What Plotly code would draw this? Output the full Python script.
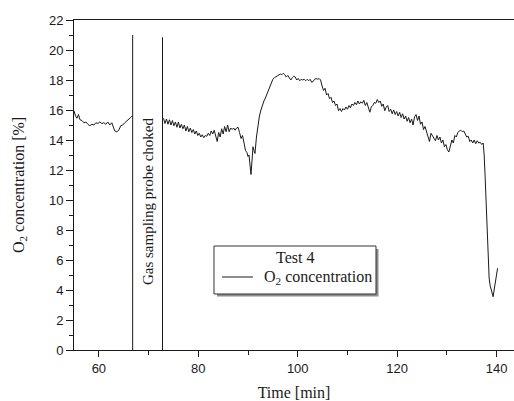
import plotly.graph_objects as go

# ---- data ----
seg1_time = [55.0, 55.3, 55.6, 55.9, 56.2, 56.6, 57.0, 57.4, 57.8, 58.2, 58.6, 59.0, 59.4, 59.8,
             60.2, 60.6, 61.0, 61.4, 61.8, 62.2, 62.6, 62.9, 63.2, 63.6, 64.0, 64.4, 64.8, 65.2,
             65.6, 66.0, 66.4, 66.7]
seg1_o2 = [15.95, 15.6, 15.45, 15.7, 15.35, 15.3, 15.15, 15.2, 15.05, 14.95, 15.05, 15.0, 15.15, 15.1,
           15.2, 15.1, 15.15, 15.05, 15.2, 15.0, 15.15, 14.9, 14.6, 14.55, 14.65, 14.95, 15.0, 15.15,
           15.25, 15.35, 15.5, 15.6]

seg2_time = [73.0, 73.3, 73.6, 73.9, 74.2, 74.5, 74.8, 75.1, 75.4, 75.7, 76.0, 76.3, 76.6, 76.9,
             77.2, 77.5, 77.8, 78.1, 78.4, 78.7, 79.0, 79.3, 79.6, 79.9, 80.2, 80.5, 80.8, 81.1,
             81.4, 81.7, 82.0, 82.3, 82.6, 82.9, 83.2, 83.5, 83.8, 84.1, 84.4, 84.7, 85.0, 85.3,
             85.6, 85.9, 86.2, 86.5, 86.8, 87.1, 87.4, 87.7, 88.0, 88.3, 88.6, 88.9, 89.2, 89.5,
             89.8, 90.0, 90.2, 90.4, 90.6, 90.8, 91.0, 91.2, 91.4, 91.7, 92.0, 92.3, 92.6, 92.9,
             93.2, 93.5, 93.8, 94.1, 94.4, 94.7, 95.0, 95.3, 95.6, 95.9, 96.2, 96.5, 96.8, 97.1,
             97.4, 97.7, 98.0, 98.3, 98.6, 98.9, 99.2, 99.5, 99.8, 100.1, 100.4, 100.7, 101.0,
             101.3, 101.6, 101.9, 102.2, 102.5, 102.8, 103.1, 103.4, 103.7, 104.0, 104.3, 104.6,
             104.9, 105.2, 105.5, 105.8, 106.1, 106.4, 106.7, 107.0, 107.3, 107.6, 107.9, 108.2,
             108.5, 108.8, 109.1, 109.4, 109.7, 110.0, 110.3, 110.6, 110.9, 111.2, 111.5, 111.8,
             112.1, 112.4, 112.7, 113.0, 113.3, 113.6, 113.9, 114.2, 114.5, 114.8, 115.1, 115.4,
             115.7, 116.0, 116.3, 116.6, 116.9, 117.2, 117.5, 117.8, 118.1, 118.4, 118.7, 119.0,
             119.3, 119.6, 119.9, 120.2, 120.5, 120.8, 121.1, 121.4, 121.7, 122.0, 122.3, 122.6,
             122.9, 123.2, 123.5, 123.8, 124.1, 124.4, 124.7, 125.0, 125.3, 125.6, 125.9, 126.2,
             126.5, 126.8, 127.1, 127.4, 127.7, 128.0, 128.3, 128.6, 128.9, 129.2, 129.5, 129.8,
             130.1, 130.4, 130.7, 131.0, 131.3, 131.6, 131.9, 132.2, 132.5, 132.8, 133.1, 133.4,
             133.7, 134.0, 134.3, 134.6, 134.9, 135.2, 135.5, 135.8, 136.1, 136.4, 136.7, 137.0,
             137.3, 137.5, 137.7, 137.9, 138.1, 138.3, 138.5, 138.7, 138.9, 139.1, 139.3, 139.5,
             139.7, 139.8, 140.0, 140.1, 140.2]
seg2_o2 = [15.45, 15.1, 15.4, 15.05, 15.35, 15.0, 15.3, 14.95, 15.2, 14.85, 15.2, 14.8, 15.05, 14.75,
           15.0, 14.6, 14.9, 14.55, 14.8, 14.5, 14.7, 14.4, 14.6, 14.3, 14.45, 14.2, 14.35, 14.15,
           14.3, 14.25, 14.45, 14.3, 14.6, 14.4, 14.65, 14.2, 13.9, 14.5, 14.2, 14.75, 14.4, 14.9,
           14.55, 15.0, 14.55, 14.8, 14.7, 14.8, 14.65, 14.8, 14.85, 14.5, 14.1, 14.3, 13.9, 13.3,
           13.15, 12.9, 13.0, 12.3, 11.7, 12.6, 13.55, 13.3, 13.1, 14.2, 15.0, 15.6, 16.0, 16.4,
           16.6, 16.8, 17.05, 17.3, 17.6, 17.85, 18.05, 18.15, 18.2, 18.3, 18.3, 18.4, 18.35, 18.45,
           18.35, 18.2, 18.3, 18.1, 18.0, 18.15, 18.25, 18.2, 18.0, 18.1, 17.95, 18.05, 18.0,
           18.05, 17.95, 18.05, 17.95, 18.05, 17.85, 17.9, 18.05, 18.1, 18.05, 18.1, 18.0,
           17.6, 17.3, 17.45, 17.0, 17.1, 16.75, 16.85, 16.5, 16.6, 16.3, 16.4, 15.95,
           16.1, 15.9, 16.1, 16.0, 16.2, 16.05, 16.3, 16.15, 16.4, 16.3, 16.5, 16.35,
           16.6, 16.4, 16.55, 16.45, 16.65, 16.3, 16.5, 16.1, 15.85, 16.2, 16.3, 16.5,
           16.45, 16.7, 16.5, 16.6, 16.25, 16.4, 15.95, 16.2, 16.3, 15.9, 16.05, 15.75,
           16.0, 15.7, 15.9, 15.6, 15.85, 15.5, 15.75, 15.4, 15.6, 15.25, 15.5, 15.15,
           15.4, 15.0, 15.55, 15.7, 15.3, 15.6, 15.05, 15.2, 14.7, 14.9, 14.5, 14.1,
           13.9, 14.45, 14.3, 14.15, 13.95, 14.3, 14.0, 14.2, 13.8, 14.0, 13.55, 13.7,
           13.35, 13.2, 13.7, 14.0, 13.8, 14.3, 14.2, 14.5, 14.6, 14.65, 14.55, 14.6,
           14.4, 14.2, 14.25, 13.9, 14.0, 13.8, 14.0, 13.75, 13.95, 13.8, 13.85, 13.7,
           13.8, 13.0, 11.5, 9.5, 7.5, 5.5, 4.8, 4.3, 4.0, 3.8, 3.55, 4.0,
           4.5, 4.7, 5.0, 5.3, 5.45]

# probe choked interval markers
choke_times = [66.8, 72.8]
choke_tops = [21.0, 20.85]
choke_label = "Gas sampling probe choked"

legend_title = "Test 4"
series_name = "O<sub>2</sub> concentration"

x_ticks = [60, 80, 100, 120, 140]
y_ticks = [0, 2, 4, 6, 8, 10, 12, 14, 16, 18, 20, 22]

serif = "Liberation Serif, Times New Roman, serif"
sans = "Liberation Sans, Arial, sans-serif"
ink = "#1a1a1a"

time_all = seg1_time + [None] + seg2_time
o2_all = seg1_o2 + [None] + seg2_o2

fig = go.Figure()
fig.add_trace(go.Scatter(x=time_all, y=o2_all, mode="lines", name=series_name, showlegend=False,
                         line=dict(color=ink, width=1), connectgaps=False))
for t, top in zip(choke_times, choke_tops):
    fig.add_trace(go.Scatter(x=[t, t], y=[0, top], mode="lines", showlegend=False,
                             line=dict(color=ink, width=1)))

fig.add_annotation(x=(choke_times[0] + choke_times[1]) / 2, y=9.9, text=choke_label,
                   textangle=-90, showarrow=False, font=dict(family=serif, size=15, color=ink))

# ---- legend box (drawn by hand, paper coordinates) ----
fig.add_shape(type="rect", xref="paper", yref="paper", layer="above",
              x0=0.325, x1=0.6920, y0=0.1621, y1=0.3061,
              fillcolor="#8c8c8c", line=dict(width=0))
fig.add_shape(type="rect", xref="paper", yref="paper", layer="above",
              x0=0.31818, x1=0.68636, y0=0.16970, y1=0.31515,
              fillcolor="white", line=dict(color="#333", width=1))
fig.add_shape(type="line", xref="paper", yref="paper", layer="above",
              x0=0.3364, x1=0.4068, y0=0.2212, y1=0.2212,
              line=dict(color=ink, width=1))
fig.add_annotation(xref="paper", yref="paper", x=0.5023, y=0.2818, text=legend_title,
                   showarrow=False, xanchor="center", yanchor="middle",
                   font=dict(family=serif, size=16, color=ink))
fig.add_annotation(xref="paper", yref="paper", x=0.4273, y=0.2212, text=series_name,
                   showarrow=False, xanchor="left", yanchor="middle",
                   font=dict(family=serif, size=16, color=ink))

fig.update_layout(
    width=514, height=401,
    margin=dict(l=74, r=0, t=20, b=51),
    paper_bgcolor="white", plot_bgcolor="white",
    showlegend=False,
    xaxis=dict(
        range=[55, 143.5], tickvals=x_ticks, ticks="outside", ticklen=6, tickwidth=1,
        tickcolor=ink, showline=True, linecolor=ink, linewidth=1, mirror=True,
        showgrid=False, zeroline=False,
        tickfont=dict(family=sans, size=13, color=ink),
        minor=dict(dtick=10, tick0=0, ticks="outside", ticklen=4, tickcolor=ink, showgrid=False),
        title=dict(text="Time [min]", font=dict(family=serif, size=16, color=ink), standoff=14),
    ),
    yaxis=dict(
        range=[0, 22], tickvals=y_ticks, ticks="outside", ticklen=7, tickwidth=1,
        tickcolor=ink, showline=True, linecolor=ink, linewidth=1, mirror=False,
        showgrid=False, zeroline=False,
        tickfont=dict(family=sans, size=13, color=ink),
        minor=dict(dtick=1, tick0=0, ticks="outside", ticklen=4, tickcolor=ink, showgrid=False),
        title=dict(text="O<sub>2</sub> concentration [%]", font=dict(family=serif, size=16, color=ink),
                   standoff=20),
    ),
)

fig.write_html("out.html")
